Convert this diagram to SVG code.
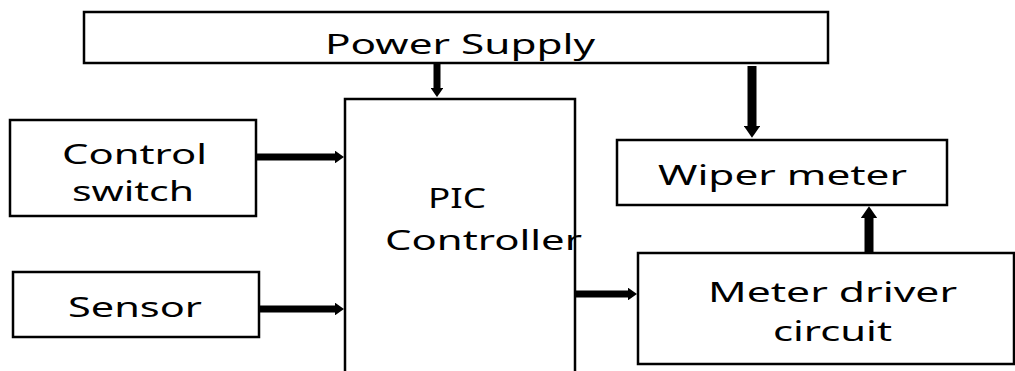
<svg xmlns="http://www.w3.org/2000/svg" width="1015" height="371" viewBox="0 0 1015 371">
<style>
.box{fill:#fff;stroke:#000;stroke-width:2.5}
.t{font-family:"Noto Sans","Liberation Sans",sans-serif;font-size:27px;fill:#000}
.c{stroke:#000;stroke-width:7;fill:none}
.w{stroke-width:9}
</style>
<defs>
<marker id="ah" markerWidth="1.3" markerHeight="1.8" refX="0" refY="0.9" orient="auto" markerUnits="strokeWidth">
<path d="M0,0 L1.3,0.9 L0,1.8 Z" fill="#000"/>
</marker>
</defs>
<rect width="1015" height="371" fill="#fff"/>
<g id="power-supply"><rect class="box" x="84" y="12" width="744" height="51"/><text class="t" x="325" y="54" textLength="270" lengthAdjust="spacingAndGlyphs">Power Supply</text></g>
<g id="pic-controller"><rect class="box" x="345" y="99" width="230" height="290"/><text class="t" x="428" y="208" textLength="58" lengthAdjust="spacingAndGlyphs">PIC</text><text class="t" x="385" y="250" textLength="197" lengthAdjust="spacingAndGlyphs">Controller</text></g>
<g id="control-switch"><rect class="box" x="10" y="120" width="246" height="96"/><text class="t" x="62" y="164" textLength="145" lengthAdjust="spacingAndGlyphs">Control</text><text class="t" x="72" y="201" textLength="122" lengthAdjust="spacingAndGlyphs">switch</text></g>
<g id="sensor"><rect class="box" x="13" y="272" width="246" height="65"/><text class="t" x="68" y="317" textLength="134" lengthAdjust="spacingAndGlyphs">Sensor</text></g>
<g id="wiper-meter"><rect class="box" x="617" y="140" width="330" height="65"/><text class="t" x="658" y="185" textLength="249" lengthAdjust="spacingAndGlyphs">Wiper meter</text></g>
<g id="meter-driver"><rect class="box" x="638" y="253" width="376" height="111"/><text class="t" x="708" y="302" textLength="249" lengthAdjust="spacingAndGlyphs">Meter driver</text><text class="t" x="773" y="341" textLength="119" lengthAdjust="spacingAndGlyphs">circuit</text></g>
<g id="connectors">
<line class="c" x1="437" y1="64" x2="437" y2="88" marker-end="url(#ah)"/>
<line class="c w" x1="752" y1="66" x2="752" y2="126" marker-end="url(#ah)"/>
<line class="c w" x1="869" y1="252" x2="869" y2="218" marker-end="url(#ah)"/>
<line class="c" x1="257" y1="157" x2="335" y2="157" marker-end="url(#ah)"/>
<line class="c" x1="260" y1="309" x2="335" y2="309" marker-end="url(#ah)"/>
<line class="c" x1="576" y1="294" x2="628" y2="294" marker-end="url(#ah)"/>
</g>
</svg>
